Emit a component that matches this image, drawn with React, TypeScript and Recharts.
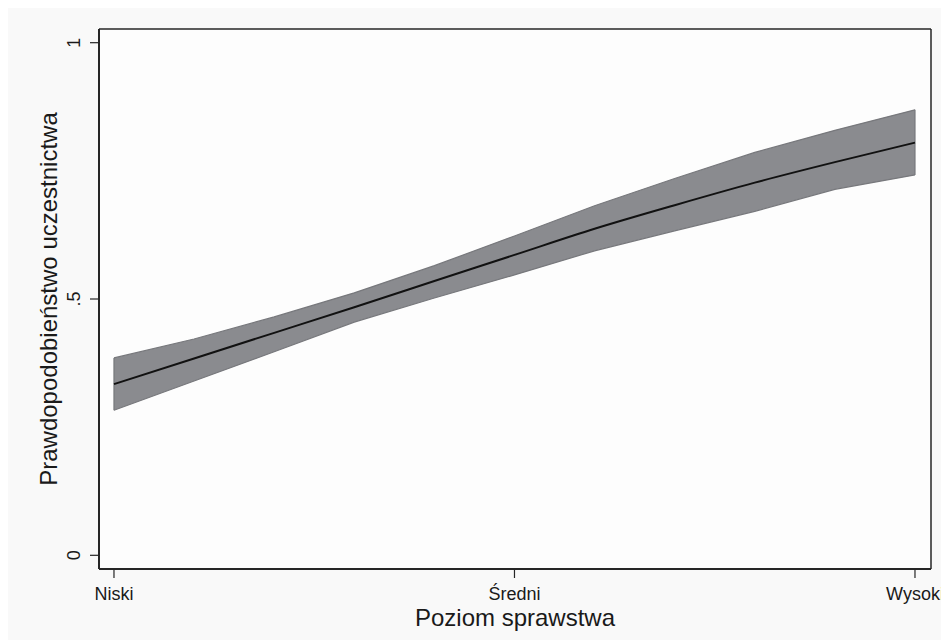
import React from 'react';
import { ComposedChart, Area, Line, XAxis, YAxis, CartesianGrid, Label, ReferenceLine } from 'recharts';

// poziomy sprawstwa (0 = niski, 10 = wysoki)
const levels = [0, 1, 2, 3, 4, 5, 6, 7, 8, 9, 10];
const predicted = [0.334, 0.384, 0.434, 0.484, 0.535, 0.586, 0.637, 0.683, 0.727, 0.767, 0.805];
const upperCI = [0.385, 0.422, 0.465, 0.512, 0.565, 0.623, 0.682, 0.735, 0.786, 0.829, 0.869];
const lowerCI = [0.283, 0.340, 0.397, 0.455, 0.502, 0.547, 0.594, 0.633, 0.671, 0.714, 0.742];

const xTicks = [0, 5, 10];
const xTickLabels = ['Niski', 'Średni', 'Wysoki'];
const yTicks = [0, 0.5, 1];
const yTickLabels = ['0', '.5', '1'];

const X_DOMAIN: [number, number] = [-0.187, 10.2];
const Y_DOMAIN: [number, number] = [-0.0267, 1.0267];

const data = levels.map((lvl, i) => ({
  level: lvl,
  pred: predicted[i],
  ci: [lowerCI[i], upperCI[i]],
}));

const FONT = '"Liberation Sans", Arial, Helvetica, sans-serif';
const FRAME = '#262626';
const TEXT = '#1a1a1a';
const BAND_EDGE = '#77787c';

const last = levels.length - 1;

const XTick = (props: any) => {
  const { x, y, payload } = props;
  const idx = xTicks.indexOf(payload.value);
  return (
    <text x={x} y={y + 13} textAnchor="middle" fontSize={18} fontFamily={FONT} fill={TEXT}>
      {idx >= 0 ? xTickLabels[idx] : payload.value}
    </text>
  );
};

const YTick = (props: any) => {
  const { x, y, payload } = props;
  const idx = yTicks.indexOf(payload.value);
  return (
    <text
      x={x - 8}
      y={y}
      transform={`rotate(-90, ${x - 8}, ${y})`}
      textAnchor="middle"
      fontSize={18}
      fontFamily={FONT}
      fill={TEXT}
    >
      {idx >= 0 ? yTickLabels[idx] : payload.value}
    </text>
  );
};

const App: React.FC = () => {
  return (
    <div style={{ width: 941, height: 632, background: '#f9f9f9' }}>
      <style>{`html, body { overflow: hidden; } .recharts-wrapper, .recharts-surface { overflow: visible !important; }`}</style>
      <ComposedChart
        width={941}
        height={632}
        data={data}
        margin={{ top: 21, right: 18, left: 0, bottom: 0 }}
        style={{ overflow: 'visible' }}
      >
        <CartesianGrid horizontal={false} vertical={false} fill="#fdfdfd" />
        <XAxis
          dataKey="level"
          type="number"
          domain={X_DOMAIN}
          ticks={xTicks}
          height={71}
          tickSize={9}
          tickMargin={9}
          axisLine={{ stroke: FRAME, strokeWidth: 2 }}
          tickLine={{ stroke: FRAME, strokeWidth: 1.2 }}
          tick={<XTick />}
          interval={0}
        >
          <Label
            value="Poziom sprawstwa"
            position="insideBottom"
            offset={14}
            style={{ fontSize: 24, fontFamily: FONT, fill: TEXT }}
          />
        </XAxis>
        <YAxis
          type="number"
          domain={Y_DOMAIN}
          ticks={yTicks}
          width={91}
          tickSize={9}
          axisLine={{ stroke: FRAME, strokeWidth: 2 }}
          tickLine={{ stroke: FRAME, strokeWidth: 1.2 }}
          tick={<YTick />}
          interval={0}
        >
          <Label
            value="Prawdopodobieństwo uczestnictwa"
            angle={-90}
            position="insideLeft"
            offset={40}
            style={{ fontSize: 24, fontFamily: FONT, fill: TEXT, textAnchor: 'middle' }}
          />
        </YAxis>
        <ReferenceLine y={Y_DOMAIN[1]} stroke={FRAME} strokeWidth={1.5} ifOverflow="extendDomain" />
        <ReferenceLine x={X_DOMAIN[1]} stroke={FRAME} strokeWidth={1.5} ifOverflow="extendDomain" />
        <Area
          dataKey="ci"
          type="linear"
          stroke={BAND_EDGE}
          strokeWidth={1.2}
          fill="#8a8b8f"
          fillOpacity={1}
          isAnimationActive={false}
          dot={false}
          activeDot={false}
        />
        {/* pionowe krawędzie przedziału ufności */}
        <ReferenceLine
          segment={[{ x: levels[0], y: lowerCI[0] }, { x: levels[0], y: upperCI[0] }]}
          stroke={BAND_EDGE}
          strokeWidth={1.2}
        />
        <ReferenceLine
          segment={[{ x: levels[last], y: lowerCI[last] }, { x: levels[last], y: upperCI[last] }]}
          stroke={BAND_EDGE}
          strokeWidth={1.2}
        />
        <Line
          dataKey="pred"
          type="monotone"
          stroke="#111111"
          strokeWidth={2}
          dot={false}
          activeDot={false}
          isAnimationActive={false}
        />
      </ComposedChart>
    </div>
  );
};

export default App;
